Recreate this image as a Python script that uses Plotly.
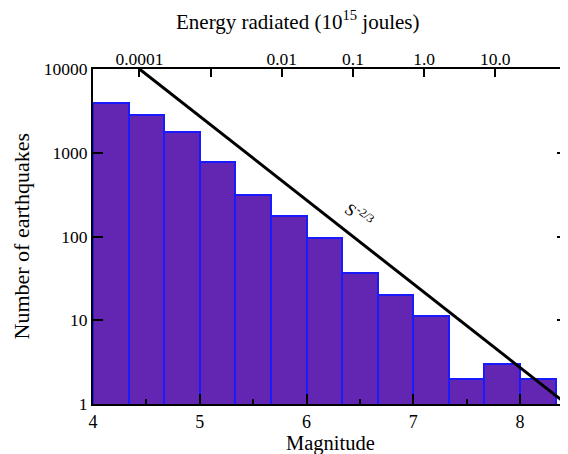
import math
import plotly.graph_objects as go

# Data
bin_starts = [4.0, 4 + 1/3, 4 + 2/3, 5.0, 5 + 1/3, 5 + 2/3, 6.0, 6 + 1/3, 6 + 2/3, 7.0, 7 + 1/3, 7 + 2/3, 8.0]
bin_width = 1/3
counts = [3900, 2850, 1750, 770, 315, 178, 95, 37, 20, 11.3, 2, 3, 2]

line_mag = [4.435, 8.435]
line_counts = [10000, 1]

energy_ticks = [0.0001, 0.001, 0.01, 0.1, 1.0, 10.0]
energy_labels = ["0.0001", "", "0.01", "0.1", "1.0", "10.0"]
energy_ref_mag = 4.435  # magnitude at 0.0001 x 10^15 J

energy_tick_mags = [energy_ref_mag + (math.log10(e) + 4) * 2 / 3 for e in energy_ticks]
centers = [b + bin_width / 2 for b in bin_starts]

FONT = "Liberation Serif, Times New Roman, Times, serif"
xr = [4, 8.44]

fig = go.Figure()
fig.add_trace(go.Bar(
    x=centers, y=counts, width=bin_width,
    marker=dict(color="#6326b2", line=dict(color="#1a1aff", width=2)),
    showlegend=False, hoverinfo="skip",
))
fig.add_trace(go.Scatter(
    x=line_mag, y=line_counts, mode="lines", xaxis="x2",
    line=dict(color="black", width=3), showlegend=False,
))

# page body has an 8px margin, so the figure is sized/offset to compensate
fig.update_layout(
    width=560, height=446,
    margin=dict(l=85, r=1, t=61, b=50, autoexpand=False),
    paper_bgcolor="white", plot_bgcolor="white",
    font=dict(family=FONT, size=16, color="black"),
    bargap=0,
    xaxis=dict(
        range=xr, tickvals=[4, 5, 6, 7, 8], ticks="inside", ticklen=10, tickwidth=2,
        tickcolor="black", showline=True, linewidth=2, linecolor="black", mirror=True,
        showgrid=False, zeroline=False, tickfont=dict(family=FONT, size=18),
        minor=dict(tickvals=[4.5, 5.5, 6.5, 7.5], ticks="inside", ticklen=5, tickwidth=2, tickcolor="black"),
    ),
    xaxis2=dict(
        range=xr, overlaying="x", side="top", tickvals=energy_tick_mags, ticktext=energy_labels,
        ticks="inside", ticklen=8, tickwidth=2, tickcolor="black", showgrid=False,
        zeroline=False, tickfont=dict(family=FONT, size=17.5),
    ),
    yaxis=dict(
        type="log", range=[0, 4], tickvals=[1, 10, 100, 1000, 10000],
        ticktext=["1", "10", "100", "1000", "10000"],
        ticks="inside", ticklen=10, tickwidth=2, tickcolor="black",
        showline=True, linewidth=2, linecolor="black", mirror="ticks",
        showgrid=False, zeroline=False, tickfont=dict(family=FONT, size=17.5),
    ),
    annotations=[
        dict(text="Energy radiated (10<sup>15</sup> joules)", xref="paper", yref="paper",
             x=0.432, y=1, yshift=49, xanchor="center", yanchor="middle", showarrow=False,
             font=dict(family=FONT, size=21)),
        dict(text="Magnitude", xref="paper", yref="paper", x=0.5, y=0, yshift=-39,
             xanchor="center", yanchor="middle", showarrow=False, font=dict(family=FONT, size=20.5)),
        dict(text="Number of earthquakes", xref="paper", yref="paper", x=0, xshift=-72,
             y=0.5, xanchor="center", yanchor="middle", textangle=-90, showarrow=False,
             font=dict(family=FONT, size=22)),
        dict(text="S<sup>-2/3</sup>", x=6.5, y=2.26, xref="x", yref="y", textangle=38,
             showarrow=False, font=dict(family=FONT, size=17)),
    ],
)

fig.write_html("out.html")
